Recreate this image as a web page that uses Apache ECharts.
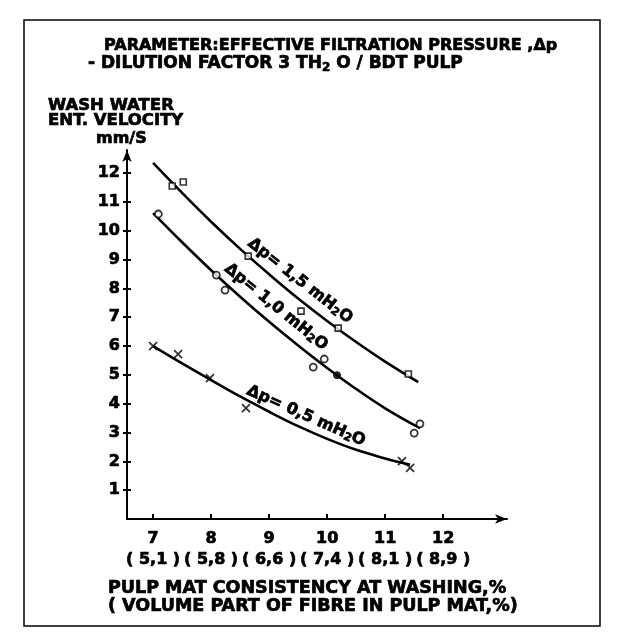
<!DOCTYPE html>
<html>
<head>
<meta charset="utf-8">
<script src="https://cdn.jsdelivr.net/npm/echarts@6/dist/echarts.min.js"></script>
<style>
  html, body { margin: 0; padding: 0; background: #fff; }
  #chart { width: 624px; height: 641px; }
</style>
</head>
<body>
<div id="chart"></div>
<script>
// Pulp mat consistency at washing, % (x axis) and the volume part of fibre
const consistency = [7, 8, 9, 10, 11, 12];
const volumePart = ['5,1', '5,8', '6,6', '7,4', '8,1', '8,9'];
const velocityTicks = [1, 2, 3, 4, 5, 6, 7, 8, 9, 10, 11, 12];

// Measured wash water entrance velocities, mm/s  [consistency, velocity]
const dp15Points = [[7.33, 11.55], [7.52, 11.69], [8.64, 9.12], [9.55, 7.21], [10.19, 6.62], [11.40, 5.03]];
const dp10Points = [[7.09, 10.58], [8.09, 8.46], [8.24, 7.94], [9.76, 5.27], [9.95, 5.55], [11.50, 2.98], [11.60, 3.30]];
const dp10Filled = [[10.17, 4.99]];
const dp05Points = [[7.00, 6.00], [7.43, 5.72], [7.98, 4.89], [8.60, 3.85], [11.29, 2.01], [11.43, 1.77]];

// Drawn trend curves
const dp15CurveX = [7, 7.5, 8, 8.5, 9, 9.5, 10, 10.5, 11, 11.57];
const dp15CurveY = [12.35, 11.31, 10.31, 9.37, 8.49, 7.65, 6.87, 6.14, 5.46, 4.75];
const dp10CurveX = [7, 7.5, 8, 8.5, 9, 9.5, 10, 10.5, 11, 11.6];
const dp10CurveY = [10.61, 9.60, 8.63, 7.71, 6.84, 6.02, 5.24, 4.51, 3.84, 3.15];
const dp05CurveX = [7, 7.5, 8, 8.5, 9, 9.5, 10, 10.5, 11, 11.43];
const dp05CurveY = [6.00, 5.40, 4.82, 4.25, 3.72, 3.22, 2.78, 2.40, 2.10, 1.88];

const FONT = '"DejaVu Sans", "Liberation Sans", sans-serif';
const INK = '#000';
const HEAVY = 0.7;   // extra stroke for a heavy lettering look

const pair = (xs, ys) => xs.map((x, i) => [x, ys[i]]);
const crossPath = 'path://M0,0L10,10M10,0L0,10';

const chart = echarts.init(document.getElementById('chart'), null, { renderer: 'canvas' });

function richSub(size) {
  return { fontFamily: FONT, fontWeight: 'bold', fontSize: size, fill: INK, stroke: INK, lineWidth: HEAVY,
           padding: [Math.round(size * 0.55), 0, 0, 0] };
}
function richNorm(size) {
  return { fontFamily: FONT, fontWeight: 'bold', fontSize: size, fill: INK, stroke: INK, lineWidth: HEAVY };
}

function label(text, x, y, size, extra) {
  return Object.assign({
    type: 'text', x: x, y: y, silent: true,
    style: {
      text: text, fontFamily: FONT, fontWeight: 'bold', fontSize: size,
      fill: INK, stroke: INK, lineWidth: HEAVY,
      verticalAlign: 'middle',
      rich: { sub: richSub(Math.round(size * 0.68)), n: richNorm(size) }
    }
  }, extra || {});
}

function curveLabel(text, x, y, angleDeg) {
  const g = label(text, x, y, 16, { rotation: -angleDeg * Math.PI / 180 });
  g.style.align = 'center';
  return g;
}

const axisLabelBase = {
  color: INK, fontFamily: FONT, fontWeight: 'bold',
  textBorderColor: INK, textBorderWidth: HEAVY
};

const option = {
  animation: false,
  backgroundColor: '#fff',
  grid: { left: 127, top: 150, width: 380, height: 369, containLabel: false },
  xAxis: {
    type: 'value',
    min: 6.55,
    max: 13.1,
    splitLine: { show: false },
    axisLine: { lineStyle: { color: INK, width: 2 }, symbol: ['none', 'arrow'], symbolSize: [7, 12] },
    axisTick: { show: true, inside: true, length: 5, lineStyle: { color: INK, width: 2 }, customValues: consistency },
    axisLabel: Object.assign({}, axisLabelBase, {
      customValues: consistency,
      margin: 9,
      fontSize: 16,
      lineHeight: 21,
      formatter: function (v) {
        const i = consistency.indexOf(Math.round(v));
        return v + '\n( ' + volumePart[i] + ' )';
      }
    })
  },
  yAxis: [{
    type: 'value',
    min: 0,
    max: 12.8,
    splitLine: { show: false },
    axisLine: { lineStyle: { color: INK, width: 2 }, symbol: ['none', 'arrow'], symbolSize: [7, 12] },
    axisTick: { show: true, length: 4, lineStyle: { color: INK, width: 2 }, customValues: velocityTicks },
    axisLabel: Object.assign({}, axisLabelBase, { customValues: velocityTicks, margin: 7, fontSize: 16 })
  }, {
    type: 'value',
    position: 'left',
    offset: 0,
    min: 0,
    max: 12.8,
    splitLine: { show: false },
    axisLine: { show: false },
    axisTick: { show: true, inside: true, length: 4, lineStyle: { color: INK, width: 2 }, customValues: velocityTicks },
    axisLabel: { show: false }
  }],
  series: [
    { type: 'line', name: 'curve15', data: pair(dp15CurveX, dp15CurveY), smooth: 0.4, showSymbol: false,
      lineStyle: { color: INK, width: 2.6 } },
    { type: 'line', name: 'curve10', data: pair(dp10CurveX, dp10CurveY), smooth: 0.4, showSymbol: false,
      lineStyle: { color: INK, width: 2.6 } },
    { type: 'line', name: 'curve05', data: pair(dp05CurveX, dp05CurveY), smooth: 0.4, showSymbol: false,
      lineStyle: { color: INK, width: 2.6 } },
    { type: 'scatter', name: 'dp 1,5', data: dp15Points, symbol: 'rect', symbolSize: 6,
      itemStyle: { color: '#fff', borderColor: INK, borderWidth: 1.6 }, z: 3 },
    { type: 'scatter', name: 'dp 1,0', data: dp10Points, symbol: 'circle', symbolSize: 7,
      itemStyle: { color: '#fff', borderColor: INK, borderWidth: 1.8 }, z: 3 },
    { type: 'scatter', name: 'dp 1,0 filled', data: dp10Filled, symbol: 'circle', symbolSize: 7,
      itemStyle: { color: INK, borderColor: INK, borderWidth: 1 }, z: 3 },
    { type: 'scatter', name: 'dp 0,5', data: dp05Points, symbol: crossPath, symbolSize: 8,
      itemStyle: { color: 'none', borderColor: INK, borderWidth: 1.8 }, z: 3 }
  ],
  graphic: [
    { type: 'rect', silent: true, shape: { x: 24, y: 20, width: 576, height: 606 },
      style: { fill: 'none', stroke: INK, lineWidth: 1.5 } },
    label('PARAMETER:EFFECTIVE FILTRATION PRESSURE ,\u0394p', 104, 46, 16),
    label('- DILUTION FACTOR 3 TH{sub|2} O / BDT PULP', 88, 64, 17),
    label('WASH WATER', 48, 106, 16.5),
    label('ENT. VELOCITY', 48, 121, 16.5),
    label('mm/S', 96, 139, 16),
    label('PULP MAT CONSISTENCY AT WASHING,%', 108, 588, 17.5),
    label('( VOLUME PART OF FIBRE IN PULP MAT,%)', 108, 606, 17.5),
    curveLabel('\u0394p= 1,5 mH{sub|2}O', 300, 281, 38),
    curveLabel('\u0394p= 1,0 mH{sub|2}O', 276, 307, 39),
    curveLabel('\u0394p= 0,5 mH{sub|2}O', 306, 416, 24)
  ]
};

chart.setOption(option);
</script>
</body>
</html>
